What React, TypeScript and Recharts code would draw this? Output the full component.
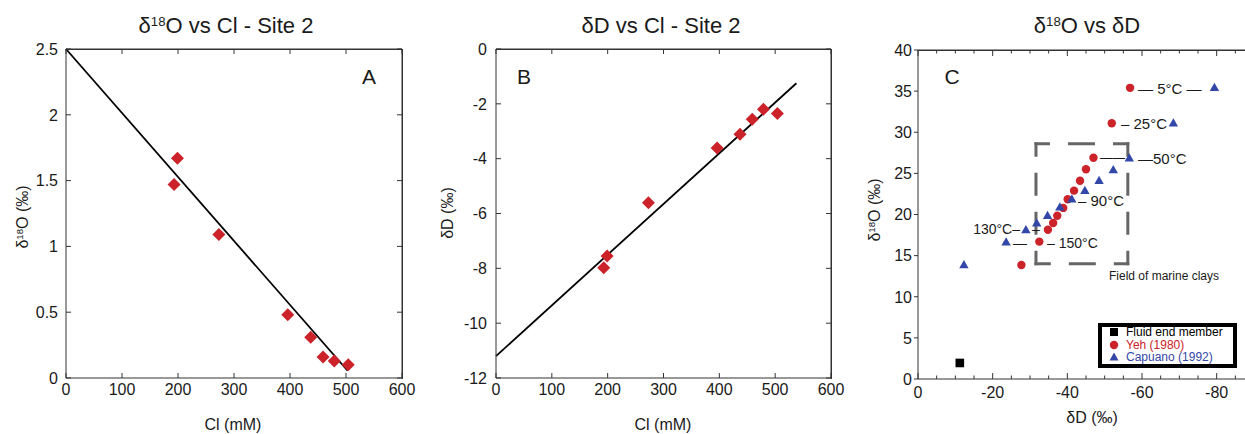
import React from 'react';
import { ScatterChart, Scatter, XAxis, YAxis, ReferenceLine, Legend } from 'recharts';

const FONT = '"Liberation Sans", Arial, Helvetica, sans-serif';
const RED = '#cc2229';
const BLUE = '#3347a8';
const AXIS = '#333';
const INK = '#1a1a1a';

// Site 2 pore fluids (panels A and B)
const clmM = [193, 199, 273, 396, 437, 459, 479, 504];
const d18OSite2 = [1.47, 1.67, 1.09, 0.48, 0.31, 0.16, 0.13, 0.1];
const dDSite2 = [-7.98, -7.55, -5.61, -3.61, -3.11, -2.56, -2.2, -2.35];

// fitted mixing lines, end points
const fitACl = [0, 503];
const fitAd18O = [2.5, 0.055];
const fitBCl = [0, 538];
const fitBdD = [-11.2, -1.25];

// panel C
const fluidDD = [-11.2];
const fluidD18O = [1.95];
const yehDD = [-56.8, -51.9, -47.0, -45.0, -43.4, -41.8, -40.1, -38.9, -37.3, -36.2, -34.8, -32.5, -27.7];
const yehD18O = [35.4, 31.1, 26.9, 25.5, 24.1, 22.9, 21.85, 20.8, 19.85, 18.97, 18.15, 16.7, 13.86];
const capDD = [-79.4, -68.4, -56.6, -52.3, -48.5, -44.7, -41.2, -38.0, -34.7, -31.8, -28.9, -23.6, -12.3];
const capD18O = [35.4, 31.1, 26.83, 25.41, 24.11, 22.89, 21.85, 20.88, 19.85, 18.93, 18.12, 16.62, 13.86];
const clayDD = [-31.6, -56.2];
const clayD18O = [14.0, 28.6];
const legendOrder = ['Fluid end member', 'Yeh (1980)', 'Capuano (1992)'];

// ticks
const clTicks = [0, 100, 200, 300, 400, 500, 600];
const d18OTicks = [0, 0.5, 1, 1.5, 2, 2.5];
const dDTicks = [-12, -10, -8, -6, -4, -2, 0];
const cXTicks = [0, -5, -10, -15, -20, -25, -30, -35, -40, -45, -50, -55, -60, -65, -70, -75, -80, -85, -90];
const cXLabels = [0, -20, -40, -60, -80];
const cYTicks = [0, 5, 10, 15, 20, 25, 30, 35, 40];

const pairs = (xs: number[], ys: number[]) => xs.map((x, i) => ({ x, y: ys[i] }));

// plot box sizes (px), used to mirror tick marks onto the opposite frame edge
const PLOT_H = 329;
const PLOT_W_A = 336;
const PLOT_W_B = 335;

// inward (positive len) tick marks drawn from the axis line, plus the mirrored mark
function makeTick(side: 'bottom' | 'left', len: number, gap: number, labelled: (v: number) => boolean, minorLen: number, far: number) {
  return (props: any) => {
    const { x, y, payload } = props;
    const v = payload.value as number;
    const major = labelled(v);
    const l = major ? len : minorLen;
    const m = Math.abs(l);
    if (side === 'bottom') {
      return (
        <g>
          <line x1={x} y1={y} x2={x} y2={y - l} stroke={AXIS} />
          {far > 0 && <line x1={x} y1={y - far} x2={x} y2={y - far + m} stroke={AXIS} />}
          {major && (
            <text x={x} y={y + gap} dy="0.72em" textAnchor="middle" fill={INK} fontFamily={FONT} fontSize={16}>{v}</text>
          )}
        </g>
      );
    }
    return (
      <g>
        <line x1={x} y1={y} x2={x + l} y2={y} stroke={AXIS} />
        {far > 0 && <line x1={x + far} y1={y} x2={x + far - m} y2={y} stroke={AXIS} />}
        <text x={x - gap} y={y} dy="0.36em" textAnchor="end" fill={INK} fontFamily={FONT} fontSize={16}>{v}</text>
      </g>
    );
  };
}

const all = () => true;
const isMajorC = (v: number) => cXLabels.includes(v);

const Diamond = (p: any) => (
  <polygon
    points={`${p.cx},${p.cy - 6.5} ${p.cx + 6.5},${p.cy} ${p.cx},${p.cy + 6.5} ${p.cx - 6.5},${p.cy}`}
    fill={RED}
  />
);
const Dot = (p: any) => <circle cx={p.cx} cy={p.cy} r={4.2} fill={RED} />;
const Tri = (p: any) => (
  <polygon points={`${p.cx},${p.cy - 5} ${p.cx + 4.7},${p.cy + 3.2} ${p.cx - 4.7},${p.cy + 3.2}`} fill={BLUE} />
);
const Sq = (p: any) => <rect x={p.cx - 4.3} y={p.cy - 4.3} width={8.6} height={8.6} fill="#000" />;

const icon = (type: string, color: string) => {
  if (type === 'square') return <rect x={2} y={2} width={8} height={8} fill={color} />;
  if (type === 'triangle') return <polygon points="6,1.5 10.5,9.5 1.5,9.5" fill={color} />;
  return <circle cx={6} cy={6} r={4.2} fill={color} />;
};

const renderLegend = (props: any) => {
  const items = (props.payload || [])
    .filter((e: any) => legendOrder.includes(e.value))
    .sort((a: any, b: any) => legendOrder.indexOf(a.value) - legendOrder.indexOf(b.value));
  return (
    <div
      style={{
        width: 139, height: 45, border: '4px solid #000', boxSizing: 'border-box', background: '#fff',
        fontFamily: FONT, fontSize: 12, lineHeight: '12.5px', overflow: 'visible',
      }}
    >
      <div style={{ marginTop: -1, paddingLeft: 6 }}>
        {items.map((e: any) => (
          <div key={e.value} style={{ display: 'flex', alignItems: 'center', height: 12.5, color: e.color }}>
            <svg width={12} height={12} style={{ marginRight: 6, flex: 'none' }}>{icon(e.type, e.color)}</svg>
            <span style={{ whiteSpace: 'nowrap' }}>{e.value}</span>
          </div>
        ))}
      </div>
    </div>
  );
};

const Sup = ({ children }: { children: React.ReactNode }) => (
  <span style={{ fontSize: '0.6em', verticalAlign: '0.5em', lineHeight: 0 }}>{children}</span>
);

const Txt = ({ x, y, size = 16, anchor = 'middle', rotate = false, color = INK, children }: any) => {
  const tx = anchor === 'middle' ? '-50%' : anchor === 'end' ? '-100%' : '0';
  return (
    <div
      style={{
        position: 'absolute', left: x, top: y, fontSize: size, color, whiteSpace: 'nowrap', lineHeight: 1,
        transform: `translate(${tx}, -50%)${rotate ? ' rotate(-90deg)' : ''}`,
        transformOrigin: rotate ? '50% 50%' : undefined,
      }}
    >
      {children}
    </div>
  );
};

// plot frame (top and right edges)
const Frame = ({ x, y, w, h }: { x: number; y: number; w: number; h: number }) => (
  <div
    style={{
      position: 'absolute', left: x, top: y, width: w, height: h, boxSizing: 'border-box',
      borderTop: `1px solid ${AXIS}`, borderRight: `1px solid ${AXIS}`, pointerEvents: 'none', zIndex: 2,
    }}
  />
);

const axisLine = { stroke: AXIS, strokeWidth: 1 };

export default function App() {
  const dataA = pairs(clmM, d18OSite2);
  const dataB = pairs(clmM, dDSite2);
  const fluid = pairs(fluidDD, fluidD18O);
  const yeh = pairs(yehDD, yehD18O);
  const cap = pairs(capDD, capD18O);
  const [bx1, bx2] = clayDD;
  const [by1, by2] = clayD18O;
  const boxH = { strokeDasharray: '24 21', strokeDashoffset: 11.5 };
  const boxV = { strokeDasharray: '20 19', strokeDashoffset: 8.5 };

  return (
    <div
      style={{
        position: 'fixed', left: 0, top: 0, width: 1245, height: 434, overflow: 'hidden',
        background: '#fff', fontFamily: FONT, color: INK,
      }}
    >
      {/* Panel A */}
      <div style={{ position: 'absolute', left: 0, top: 0, width: 420, height: 434 }}>
        <ScatterChart width={420} height={434} margin={{ top: 49, right: 18, bottom: 0, left: 0 }}>
          <XAxis type="number" dataKey="x" domain={[0, 600]} ticks={clTicks} interval={0} height={56}
            axisLine={axisLine} tickLine={false} tickSize={0} tickMargin={0} tick={makeTick('bottom', 5, 5, all, 5, PLOT_H)} />
          <YAxis type="number" dataKey="y" domain={[0, 2.5]} ticks={d18OTicks} interval={0} width={66}
            axisLine={axisLine} tickLine={false} tickSize={0} tickMargin={0} tick={makeTick('left', 5, 8, all, 5, PLOT_W_A)} />
          <ReferenceLine y={2.5} stroke={AXIS} strokeWidth={1} ifOverflow="extendDomain" />
          <ReferenceLine x={600} stroke={AXIS} strokeWidth={1} ifOverflow="extendDomain" />
          <Scatter data={dataA} shape={Diamond} fill={RED} isAnimationActive={false} />
          <ReferenceLine segment={[{ x: fitACl[0], y: fitAd18O[0] }, { x: fitACl[1], y: fitAd18O[1] }]}
            stroke="#000" strokeWidth={1.8} ifOverflow="visible" />
        </ScatterChart>
        <Frame x={66} y={49} w={337} h={330} />
        <Txt x={226} y={26} size={22}>δ<Sup>18</Sup>O vs Cl - Site 2</Txt>
        <Txt x={369} y={76} size={21}>A</Txt>
        <Txt x={233} y={425}>Cl (mM)</Txt>
        <Txt x={23} y={217} rotate>δ<Sup>18</Sup>O (‰)</Txt>
      </div>

      {/* Panel B */}
      <div style={{ position: 'absolute', left: 420, top: 0, width: 440, height: 434 }}>
        <ScatterChart width={440} height={434} margin={{ top: 49, right: 29, bottom: 0, left: 0 }}>
          <XAxis type="number" dataKey="x" domain={[0, 600]} ticks={clTicks} interval={0} height={56}
            axisLine={axisLine} tickLine={false} tickSize={0} tickMargin={0} tick={makeTick('bottom', 5, 5, all, 5, PLOT_H)} />
          <YAxis type="number" dataKey="y" domain={[-12, 0]} ticks={dDTicks} interval={0} width={76}
            axisLine={axisLine} tickLine={false} tickSize={0} tickMargin={0} tick={makeTick('left', 5, 9, all, 5, PLOT_W_B)} />
          <ReferenceLine y={0} stroke={AXIS} strokeWidth={1} ifOverflow="extendDomain" />
          <ReferenceLine x={600} stroke={AXIS} strokeWidth={1} ifOverflow="extendDomain" />
          <Scatter data={dataB} shape={Diamond} fill={RED} isAnimationActive={false} />
          <ReferenceLine segment={[{ x: fitBCl[0], y: fitBdD[0] }, { x: fitBCl[1], y: fitBdD[1] }]}
            stroke="#000" strokeWidth={1.8} ifOverflow="visible" />
        </ScatterChart>
        <Frame x={76} y={49} w={336} h={330} />
        <Txt x={241} y={26} size={22}>δD vs Cl - Site 2</Txt>
        <Txt x={104} y={76} size={21}>B</Txt>
        <Txt x={243} y={425}>Cl (mM)</Txt>
        <Txt x={28} y={213} rotate>δD (‰)</Txt>
      </div>

      {/* Panel C */}
      <div style={{ position: 'absolute', left: 830, top: 0, width: 440, height: 434 }}>
        <ScatterChart width={440} height={434} margin={{ top: 50, right: 16, bottom: 0, left: 0 }}>
          <XAxis type="number" dataKey="x" domain={[-90, 0]} reversed ticks={cXTicks} interval={0} height={55}
            axisLine={axisLine} tickLine={false} tickSize={0} tickMargin={0} tick={makeTick('bottom', 6, 7, isMajorC, 3.5, PLOT_H)} />
          <YAxis type="number" dataKey="y" domain={[0, 40]} ticks={cYTicks} interval={0} width={88}
            axisLine={axisLine} tickLine={false} tickSize={0} tickMargin={0} tick={makeTick('left', -4, 6, all, -4, 0)} />
          <ReferenceLine y={40} stroke={AXIS} strokeWidth={1} ifOverflow="extendDomain" />
          <ReferenceLine segment={[{ x: bx1, y: by2 }, { x: bx2, y: by2 }]} stroke="#666" strokeWidth={3} strokeLinecap="square" {...boxH} />
          <ReferenceLine segment={[{ x: bx2, y: by2 }, { x: bx2, y: by1 }]} stroke="#666" strokeWidth={3} strokeLinecap="square" {...boxV} />
          <ReferenceLine segment={[{ x: bx2, y: by1 }, { x: bx1, y: by1 }]} stroke="#666" strokeWidth={3} strokeLinecap="square" {...boxH} />
          <ReferenceLine segment={[{ x: bx1, y: by1 }, { x: bx1, y: by2 }]} stroke="#666" strokeWidth={3} strokeLinecap="square" {...boxV} />
          <Scatter name="Fluid end member" data={fluid} shape={Sq} fill="#000" legendType="square" isAnimationActive={false} />
          <Scatter name="Yeh (1980)" data={yeh} shape={Dot} fill={RED} legendType="circle" isAnimationActive={false} />
          <Scatter name="Capuano (1992)" data={cap} shape={Tri} fill={BLUE} legendType="triangle" isAnimationActive={false} />
          <Legend layout="horizontal" verticalAlign="middle" align="center" content={renderLegend}
            wrapperStyle={{ position: 'absolute', left: 268, top: 323, width: 139, height: 45, margin: 0, padding: 0 }} />
        </ScatterChart>
        <Frame x={88} y={50} w={340} h={330} />
        <Txt x={257} y={26} size={22}>δ<Sup>18</Sup>O vs δD</Txt>
        <Txt x={122} y={76} size={21}>C</Txt>
        <Txt x={262} y={418}>δD (‰)</Txt>
        <Txt x={45} y={210} rotate>δ<Sup>18</Sup>O (‰)</Txt>
        <Txt x={279} y={276} size={12} anchor="start">Field of marine clays</Txt>
        <Txt x={308} y={88} size={15} anchor="start">— 5°C —</Txt>
        <Txt x={291} y={123} size={15} anchor="start">– 25°C</Txt>
        <Txt x={270} y={158} size={12.5} anchor="start">——</Txt>
        <Txt x={308} y={158} size={15} anchor="start">—50°C</Txt>
        <Txt x={248} y={200} size={15} anchor="start">– 90°C</Txt>
        <Txt x={190} y={229} size={14} anchor="end">130°C–</Txt>
        <Txt x={202} y={229} size={14} anchor="start">–</Txt>
        <Txt x={183} y={243} size={14} anchor="start">—</Txt>
        <Txt x={217} y={243} size={14} anchor="start">– 150°C</Txt>
      </div>
    </div>
  );
}
